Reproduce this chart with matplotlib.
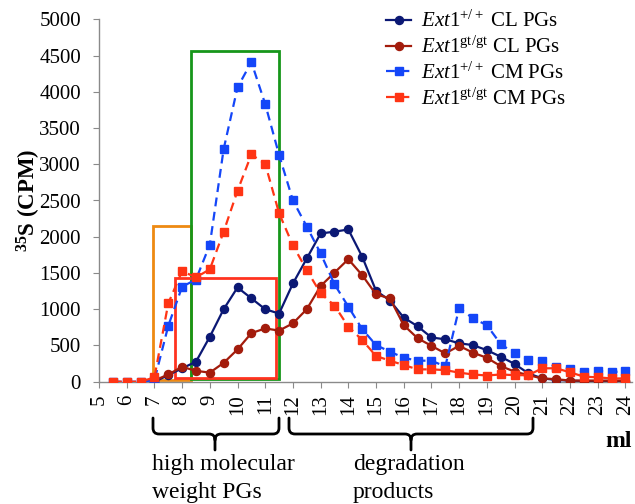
import matplotlib
matplotlib.use("Agg")
import matplotlib.pyplot as plt
from matplotlib.path import Path
from matplotlib.patches import PathPatch, Rectangle

plt.rcParams['font.family'] = ['Liberation Serif', 'DejaVu Serif']
plt.rcParams['mathtext.fontset'] = 'custom'
plt.rcParams['mathtext.rm'] = 'Liberation Serif'
plt.rcParams['mathtext.it'] = 'Liberation Serif:italic'
plt.rcParams['mathtext.bf'] = 'Liberation Serif:bold'

# ---------------- data ----------------
ml_cm = [5.5, 6, 6.5, 7, 7.5, 8, 8.5, 9, 9.5, 10, 10.5, 11, 11.5, 12, 12.5, 13, 13.5,
         14, 14.5, 15, 15.5, 16, 16.5, 17, 17.5, 18, 18.5, 19, 19.5, 20, 20.5, 21,
         21.5, 22, 22.5, 23, 23.5, 24]
ml_cl = [7, 7.5, 8, 8.5, 9, 9.5, 10, 10.5, 11, 11.5, 12, 12.5, 13, 13.5, 14, 14.5,
         15, 15.5, 16, 16.5, 17, 17.5, 18, 18.5, 19, 19.5, 20, 20.5, 21, 21.5, 22,
         22.5, 23, 23.5, 24]

wt_cl = [0, 90, 185, 275, 620, 1000, 1300, 1150, 1000, 940, 1355, 1700, 2045, 2070,
         2100, 1725, 1255, 1120, 885, 765, 610, 585, 530, 505, 435, 345, 245, 115,
         45, 25, 15, 10, 10, 10, 10]
gt_cl = [15, 100, 205, 150, 125, 260, 445, 670, 735, 705, 805, 1000, 1320, 1505,
         1690, 1470, 1205, 1150, 780, 600, 495, 390, 495, 400, 330, 215, 140, 90,
         45, 35, 15, 15, 15, 15, 15]
wt_cm = [0, 0, 0, 20, 770, 1310, 1410, 1890, 3210, 4060, 4410, 3830, 3130, 2500,
         2140, 1770, 1345, 1035, 725, 505, 415, 330, 290, 290, 210, 1015, 875, 780,
         520, 390, 300, 290, 205, 180, 140, 150, 130, 150]
gt_cm = [0, 0, 0, 60, 1080, 1525, 1440, 1550, 2070, 2635, 3135, 3005, 2325, 1880,
         1540, 1220, 1050, 760, 575, 355, 290, 230, 170, 170, 160, 125, 100, 85,
         100, 90, 90, 185, 185, 130, 70, 60, 45, 45]

labels = [r"$\mathit{Ext1}^{\mathrm{+/+}}$ CL PGs",
          r"$\mathit{Ext1}^{\mathrm{gt/gt}}$ CL PGs",
          r"$\mathit{Ext1}^{\mathrm{+/+}}$ CM PGs",
          r"$\mathit{Ext1}^{\mathrm{gt/gt}}$ CM PGs"]
xticks = list(range(5, 25))
yticks = [0, 500, 1000, 1500, 2000, 2500, 3000, 3500, 4000, 4500, 5000]

# boxes: (x0, x1, y0, y1) in data units
box_orange = (6.94, 8.31, 30, 2150)
box_green = (8.31, 11.51, 35, 4565)
box_red = (7.74, 11.39, 45, 1435)

c_navy = '#0B1874'
c_dred = '#A31C0C'
c_blue = '#1446F8'
c_red = '#FF3414'

# ---------------- figure ----------------
W, H = 635, 504
fig = plt.figure(figsize=(W / 100, H / 100), dpi=100)
ax = fig.add_axes([99 / W, 1 - 381.7 / H, (632 - 99) / W, (381.7 - 19.3) / H])

for (x0, x1, y0, y1), col in [(box_orange, '#EE8A12'), (box_green, '#16961A'),
                              (box_red, '#FF3320')]:
    ax.add_patch(Rectangle((x0, y0), x1 - x0, y1 - y0, fill=False, edgecolor=col,
                           lw=2.0, zorder=1.5))

ax.plot(ml_cl, wt_cl, '-o', color=c_navy, lw=1.6, ms=5.8, label=labels[0], zorder=3)
ax.plot(ml_cl, gt_cl, '-o', color=c_dred, lw=1.6, ms=5.8, label=labels[1], zorder=3)
ax.plot(ml_cm, wt_cm, '--s', color=c_blue, lw=1.6, ms=5.8, dashes=(4, 2.5),
        label=labels[2], zorder=3)
ax.plot(ml_cm, gt_cm, '--s', color=c_red, lw=1.6, ms=5.8, dashes=(4, 2.5),
        label=labels[3], zorder=3)

ax.set_xlim(5, 24.24)
ax.set_ylim(0, 5000)
ax.set_xticks(xticks)
ax.set_xticklabels([str(t) for t in xticks], rotation=90, fontsize=15)
ax.set_yticks(yticks)
ax.set_yticklabels([str(t) for t in yticks], fontsize=15)
ax.tick_params(axis='x', direction='out', length=4, color='#8a8a8a', pad=5)
ax.tick_params(axis='y', direction='out', length=4, color='#8a8a8a', pad=9)
for s in ['top', 'right']:
    ax.spines[s].set_visible(False)
for s in ['left', 'bottom']:
    ax.spines[s].set_color('#8a8a8a')
    ax.spines[s].set_linewidth(1.0)

ax.set_ylabel(r"$^{\mathbf{35}}$S (CPM)", fontsize=16.5, fontweight='bold')
ax.yaxis.set_label_coords(-0.106, 0.5)

leg = fig.legend(loc='upper left', bbox_to_anchor=(386 / W, 1 - 11 / H),
                 frameon=False, fontsize=15, handlelength=1.2, handletextpad=0.5,
                 labelspacing=0.22, borderpad=0, borderaxespad=0)


def fx(px):
    return px / W


def fy(py):
    return 1 - py / H


def brace(x0, x1, xc, ytop=418, ymid=434, ytip=450, r=6):
    verts = [(x0, ytop), (x0, ymid - r), (x0, ymid), (x0 + r, ymid),
             (xc - r, ymid), (xc, ymid), (xc, ymid + r), (xc, ytip),
             (xc, ymid + r), (xc, ymid), (xc + r, ymid),
             (x1 - r, ymid), (x1, ymid), (x1, ymid - r), (x1, ytop)]
    codes = [Path.MOVETO, Path.LINETO, Path.CURVE3, Path.CURVE3,
             Path.LINETO, Path.CURVE3, Path.CURVE3, Path.LINETO,
             Path.MOVETO, Path.CURVE3, Path.CURVE3,
             Path.LINETO, Path.CURVE3, Path.CURVE3, Path.LINETO]
    p = Path([(fx(a), fy(b)) for a, b in verts], codes)
    fig.add_artist(PathPatch(p, transform=fig.transFigure, fill=False,
                             lw=2.0, edgecolor='black', capstyle='round'))


brace(153, 279, 215)
brace(289, 533, 411)

for txt, xp, yp in [('high molecular', 152, 470), ('weight PGs', 152, 498),
                    ('degradation', 353, 470), ('products', 353, 498)]:
    fig.text(fx(xp), fy(yp), txt, fontsize=17, ha='left', va='baseline')
fig.text(fx(605), fy(447), 'ml', fontsize=17, fontweight='bold', ha='left',
         va='baseline')

fig.savefig('out.png', dpi=100)
